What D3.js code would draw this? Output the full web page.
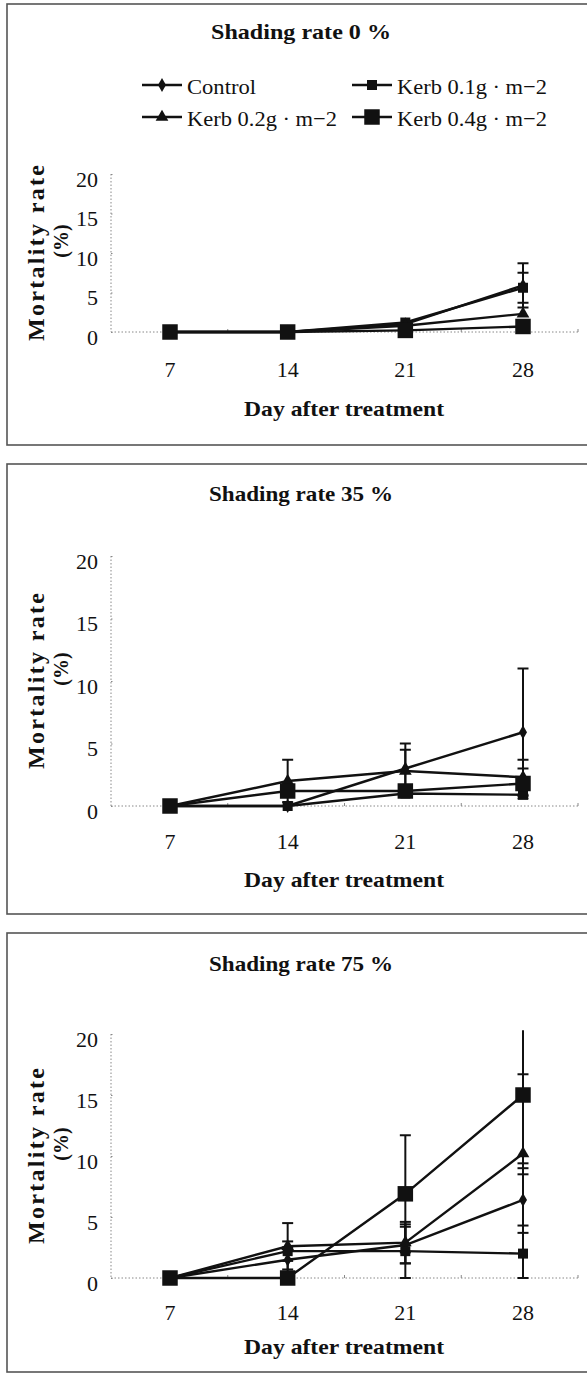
<!DOCTYPE html>
<html>
  <head>
    <title>Mortality rate by shading rate</title>
    <script src="https://cdn.jsdelivr.net/npm/d3@7"></script>
    <style>
      body { margin: 0; background: #fff; }
      .box { fill: none; stroke: #555; stroke-width: 1.6; }
      .axis path, .axis line { stroke: #888; stroke-dasharray: 1.5,2; }
      .series { fill: none; stroke: #111; stroke-width: 2.4; }
      .err { stroke: #111; stroke-width: 2; }
    </style>
  </head>
  <body>
    <svg id="chart" width="587" height="1375" font-family="'Liberation Serif', 'Times New Roman', 'DejaVu Serif', serif"></svg>
  </body>
  <script>
    const days = [7, 14, 21, 28];
    const yTicks = [0, 5, 10, 15, 20];
    const seriesNames = ["Control", "Kerb 0.1g · m−2", "Kerb 0.2g · m−2", "Kerb 0.4g · m−2"];
    const panelTitles = ["Shading rate 0 %", "Shading rate 35 %", "Shading rate 75 %"];

    // mean mortality (%) per series: Control, Kerb 0.1, Kerb 0.2, Kerb 0.4
    const mean0 = [
      [0, 0, 1.0, 5.9],
      [0, 0, 1.2, 5.6],
      [0, 0, 0.8, 2.3],
      [0, 0, 0.2, 0.7]
    ];
    const err0 = [
      [0, 0, 0, 2.8],
      [0, 0, 0, 1.9],
      [0, 0, 0, 0],
      [0, 0, 0, 0]
    ];
    const mean35 = [
      [0, 0, 3.0, 5.9],
      [0, 0, 1.0, 0.9],
      [0, 2.0, 2.8, 2.3],
      [0, 1.2, 1.2, 1.8]
    ];
    const err35 = [
      [0, 0, 2.0, 5.1],
      [0, 0, 0, 0],
      [0, 1.7, 1.7, 1.4],
      [0, 0, 0, 1.2]
    ];
    const mean75 = [
      [0, 1.5, 2.7, 6.4],
      [0, 2.2, 2.2, 2.0],
      [0, 2.6, 2.9, 10.2],
      [0, 0, 6.9, 15.0]
    ];
    const err75 = [
      [0, 1.0, 1.5, 2.1],
      [0, 0.8, 2.2, 7.0],
      [0, 1.9, 1.7, 6.5],
      [0, 0, 4.8, 5.6]
    ];

    const panelMeans = [mean0, mean35, mean75];
    const panelErrs = [err0, err35, err75];

    // layout of the three stacked panels
    const layout = [
      { boxTop: 4, boxBottom: 445, title: 32, yTop: 174, yZero: 332, xLab: 369, xTitle: 408 },
      { boxTop: 464, boxBottom: 914, title: 494, yTop: 556, yZero: 806, xLab: 841, xTitle: 879 },
      { boxTop: 933, boxBottom: 1372, title: 964, yTop: 1034, yZero: 1278, xLab: 1312, xTitle: 1346 }
    ];

    const symbols = [
      d3.symbol(d3.symbolDiamond, 55),
      d3.symbol(d3.symbolSquare, 100),
      d3.symbol(d3.symbolTriangle, 70),
      d3.symbol(d3.symbolSquare, 240)
    ];

    const svg = d3.select("#chart");
    const xLeft = 111, xRight = 578;
    const serif = "'Liberation Serif', 'Times New Roman', 'DejaVu Serif', serif";

    const x = d3.scalePoint().domain(days).range([170, 523]);
    const xBand = d3.scaleBand().domain(days).range([xLeft, xRight]);

    layout.forEach((L, p) => {
      const g = svg.append("g").attr("font-family", serif).attr("fill", "#111");

      g.append("rect").attr("class", "box")
        .attr("x", 7).attr("y", L.boxTop)
        .attr("width", 600).attr("height", L.boxBottom - L.boxTop);

      g.append("text")
        .attr("x", 301).attr("y", L.title)
        .attr("text-anchor", "middle").attr("dominant-baseline", "central")
        .attr("font-size", 21).attr("font-weight", "bold")
        .attr("textLength", p === 0 ? 180 : 184).attr("lengthAdjust", "spacingAndGlyphs")
        .text(panelTitles[p]);

      const y = d3.scaleLinear().domain([0, 20]).range([L.yZero, L.yTop]);

      // y axis: dotted line with tiny ticks
      const yAxis = g.append("g").attr("class", "axis")
        .attr("transform", `translate(${xLeft},0)`)
        .call(d3.axisLeft(y).tickValues(yTicks).tickSize(-3).tickFormat(""));
      yAxis.select(".domain").attr("d", `M0,${L.yTop}V${L.yZero}`);

      g.selectAll(".ylab").data(yTicks).join("text")
        .attr("x", 98).attr("y", d => y(d) + 5)
        .attr("text-anchor", "end").attr("dominant-baseline", "central")
        .attr("font-size", 22)
        .text(d => d);

      // x axis with ticks between categories
      g.append("line")
        .attr("x1", xLeft).attr("x2", xRight).attr("y1", L.yZero).attr("y2", L.yZero)
        .attr("stroke", "#888").attr("stroke-dasharray", "1.5,2");
      g.selectAll(".xtick").data(days.slice(1).concat(["end"])).join("line")
        .attr("x1", d => d === "end" ? xRight : xBand(d))
        .attr("x2", d => d === "end" ? xRight : xBand(d))
        .attr("y1", L.yZero).attr("y2", L.yZero - 3)
        .attr("stroke", "#888");

      g.selectAll(".xlab").data(days).join("text")
        .attr("x", d => x(d)).attr("y", L.xLab)
        .attr("text-anchor", "middle").attr("dominant-baseline", "central")
        .attr("font-size", 22)
        .text(d => d);

      g.append("text")
        .attr("x", 344).attr("y", L.xTitle)
        .attr("text-anchor", "middle").attr("dominant-baseline", "central")
        .attr("font-size", 22).attr("font-weight", "bold")
        .attr("textLength", 200).attr("lengthAdjust", "spacingAndGlyphs")
        .text("Day after treatment");

      const yMid = (L.yTop + L.yZero) / 2;
      g.append("text")
        .attr("transform", `translate(36,${yMid}) rotate(-90)`)
        .attr("text-anchor", "middle").attr("dominant-baseline", "central")
        .attr("font-size", 24).attr("font-weight", "bold")
        .attr("textLength", 176).attr("lengthAdjust", "spacing")
        .text("Mortality rate");
      g.append("text")
        .attr("transform", `translate(61,${yMid - 12}) rotate(-90)`)
        .attr("text-anchor", "middle").attr("dominant-baseline", "central")
        .attr("font-size", 20).attr("font-weight", "bold")
        .text("(%)");

      const means = panelMeans[p];
      const errs = panelErrs[p];
      const line = d3.line().x((d, i) => x(days[i])).y(d => y(d));

      // error bars, clipped to the plot area
      means.forEach((s, k) => {
        s.forEach((v, i) => {
          const e = errs[k][i];
          if (e <= 0) return;
          const hi = Math.min(v + e, 20.3);
          const lo = Math.max(v - e, 0);
          const cx = x(days[i]);
          g.append("line").attr("class", "err")
            .attr("x1", cx).attr("x2", cx).attr("y1", y(hi)).attr("y2", y(lo));
          [[hi, v + e <= 20.3], [lo, true]].forEach(([val, cap]) => {
            if (!cap) return;
            g.append("line").attr("class", "err").attr("stroke-width", 2.6)
              .attr("x1", cx - 5.5).attr("x2", cx + 5.5).attr("y1", y(val)).attr("y2", y(val));
          });
        });
      });

      means.forEach((s, k) => {
        g.append("path").datum(s).attr("class", "series").attr("d", line);
        g.selectAll(`.m${k}`).data(s).join("path")
          .attr("transform", (d, i) => `translate(${x(days[i])},${y(d)})`)
          .attr("d", symbols[k]).attr("fill", "#111");
      });

      // legend only in the first panel
      if (p === 0) {
        const legendPos = [[162, 85], [372, 85], [162, 117], [372, 117]];
        seriesNames.forEach((name, k) => {
          const [lx, ly] = legendPos[k];
          g.append("line").attr("x1", lx - 20).attr("x2", lx + 20)
            .attr("y1", ly).attr("y2", ly).attr("stroke", "#111").attr("stroke-width", 2.4);
          g.append("path").attr("transform", `translate(${lx},${ly})`)
            .attr("d", symbols[k]).attr("fill", "#111");
          g.append("text")
            .attr("x", lx + 25).attr("y", ly + 1)
            .attr("dominant-baseline", "central").attr("font-size", 22)
            .attr("textLength", k === 0 ? 69 : 150).attr("lengthAdjust", "spacingAndGlyphs")
            .text(name);
        });
      }
    });
  </script>
</html>
